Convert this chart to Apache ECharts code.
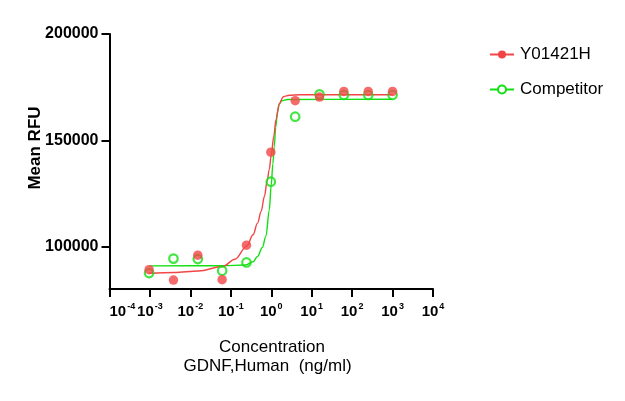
<!DOCTYPE html>
<html>
<head>
<meta charset="utf-8">
<script src="https://cdn.jsdelivr.net/npm/echarts@6/dist/echarts.min.js"></script>
<style>
html,body{margin:0;padding:0;background:#fff;}
#chart{width:625px;height:401px;}
</style>
</head>
<body>
<div id="chart"></div>
<script>
// Concentrations (ng/ml), 4-fold dilution series, low -> high
const concentrations = [0.000954, 0.003815, 0.01526, 0.06104, 0.2441, 0.9766, 3.906, 15.63, 62.5, 250, 1000];
// Measured Mean RFU
const y01421hValues = [89100, 84200, 95900, 84400, 100600, 144400, 168600, 170300, 173000, 173000, 173000];
const competitorValues = [87500, 94300, 94100, 88600, 92500, 130500, 161100, 171600, 171300, 171300, 171300];
// Fitted curves: log10(concentration) and Mean RFU
const y01421hCurveLog = [-3.02, -2.4, -1.8, -1.2, -0.9, -0.6, -0.45, -0.34, -0.25, -0.17, -0.1, -0.05, 0, 0.06, 0.116, 0.2, 0.3, 0.45, 0.7, 3];
const y01421hCurveVal = [87400, 87800, 88500, 90600, 94000, 100300, 105500, 111000, 116500, 123500, 131000, 136200, 143000, 151500, 159500, 167300, 170500, 171200, 171400, 171400];
const competitorCurveLog = [-3.02, -1.2, -0.63, -0.45, -0.34, -0.22, -0.13, -0.05, 0, 0.04, 0.074, 0.11, 0.155, 0.2, 0.26, 0.4, 3];
const competitorCurveVal = [90900, 90950, 91300, 92800, 95300, 99500, 105000, 117000, 129000, 139000, 147000, 156000, 163500, 167000, 168600, 169200, 169300];
// Axis ticks
const xTicks = [1e-4, 1e-3, 1e-2, 1e-1, 1e0, 1e1, 1e2, 1e3, 1e4];
const yTicks = [100000, 150000, 200000];
const seriesNames = ['Y01421H', 'Competitor'];

const RED = '#f24646';
const GREEN = '#12e012';
const FONT = 'Liberation Sans, Arial, sans-serif';

const pair = (xs, ys) => xs.map((x, i) => [x, ys[i]]);
const curve = (logs, vals) => logs.map((l, i) => [Math.pow(10, l), vals[i]]);

const chart = echarts.init(document.getElementById('chart'), null, {renderer: 'canvas'});
chart.setOption({
  animation: false,
  backgroundColor: '#fff',
  textStyle: {fontFamily: FONT},
  grid: {left: 109.5, right: 192, top: 34, bottom: 112, outerBoundsMode: 'none', containLabel: false},
  legend: {
    data: seriesNames,
    orient: 'vertical',
    left: 484,
    top: 41,
    itemWidth: 24,
    itemHeight: 10,
    itemGap: 18,
    textStyle: {fontSize: 17, color: '#000', fontFamily: FONT, padding: [0, 0, 0, 1]}
  },
  xAxis: {
    type: 'log',
    logBase: 10,
    min: 1e-4,
    max: 1e4,
    axisLine: {show: true, lineStyle: {color: '#000', width: 2}},
    axisTick: {show: true, length: 8, lineStyle: {color: '#000', width: 2}, customValues: xTicks},
    minorTick: {show: false},
    splitLine: {show: false},
    axisLabel: {
      customValues: xTicks,
      showMinLabel: true,
      showMaxLabel: true,
      hideOverlap: false,
      alignMinLabel: 'left',
      margin: 13,
      formatter: v => '{b|10}{s|' + Math.round(Math.log10(v)) + '}',
      rich: {
        b: {fontSize: 15, fontWeight: 'bold', color: '#000', fontFamily: FONT, lineHeight: 20, verticalAlign: 'middle'},
        s: {fontSize: 9, fontWeight: 'bold', color: '#000', fontFamily: FONT, lineHeight: 15, verticalAlign: 'top', padding: [0, 0, 0, 1]}
      }
    }
  },
  yAxis: {
    type: 'value',
    min: 80000,
    max: 200000,
    axisLine: {show: true, lineStyle: {color: '#000', width: 2}},
    axisTick: {show: true, length: 8, lineStyle: {color: '#000', width: 2}, customValues: yTicks},
    splitLine: {show: false},
    axisLabel: {
      customValues: yTicks,
      formatter: v => String(v),
      margin: 11,
      fontSize: 16,
      fontWeight: 'bold',
      color: '#000',
      fontFamily: FONT
    }
  },
  graphic: [
    {type: 'text', x: 35, y: 148, rotation: Math.PI / 2,
     style: {text: 'Mean RFU', font: 'bold 17px ' + FONT, fill: '#000', textAlign: 'center', textVerticalAlign: 'middle'}},
    {type: 'text', x: 272, y: 347,
     style: {text: 'Concentration', font: '17px ' + FONT, fill: '#000', textAlign: 'center', textVerticalAlign: 'middle'}},
    {type: 'text', x: 267.5, y: 366,
     style: {text: 'GDNF,Human  (ng/ml)', font: '17px ' + FONT, fill: '#000', textAlign: 'center', textVerticalAlign: 'middle'}}
  ],
  series: [
    {
      name: seriesNames[1], type: 'line', data: curve(competitorCurveLog, competitorCurveVal),
      smooth: 0.35, smoothMonotone: 'x', symbol: 'emptyCircle', showSymbol: false, symbolSize: 8,
      lineStyle: {color: GREEN, width: 1.4}, itemStyle: {color: GREEN}, z: 2
    },
    {
      name: seriesNames[0], type: 'line', data: curve(y01421hCurveLog, y01421hCurveVal),
      smooth: 0.35, smoothMonotone: 'x', symbol: 'circle', showSymbol: false, symbolSize: 8,
      lineStyle: {color: RED, width: 1.4}, itemStyle: {color: RED}, z: 2
    },
    {
      name: seriesNames[1], type: 'scatter', data: pair(concentrations, competitorValues),
      symbol: 'circle', symbolSize: 8.5,
      itemStyle: {color: 'rgba(255,255,255,0)', borderColor: GREEN, borderWidth: 2.2}, z: 3
    },
    {
      name: seriesNames[0], type: 'scatter', data: pair(concentrations, y01421hValues),
      symbol: 'circle', symbolSize: 9.5,
      itemStyle: {color: RED}, z: 4
    }
  ]
});
</script>
</body>
</html>
